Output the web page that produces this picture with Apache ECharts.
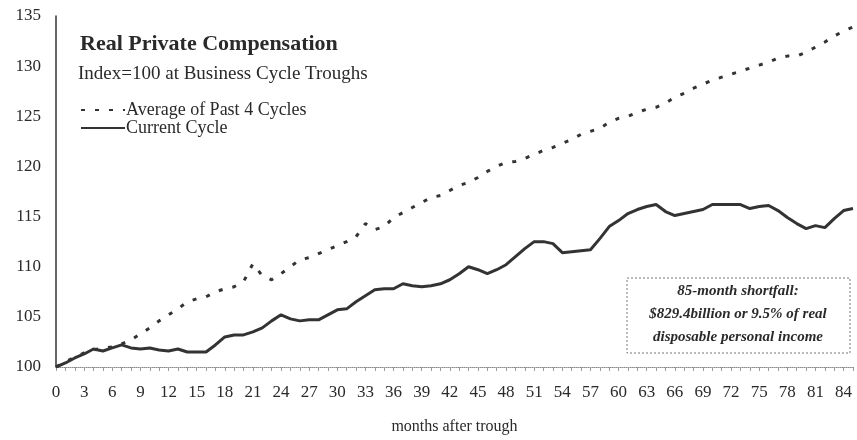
<!DOCTYPE html>
<html>
<head>
<meta charset="utf-8">
<title>Real Private Compensation</title>
<script src="https://cdn.jsdelivr.net/npm/echarts@6/dist/echarts.min.js"></script>
<style>
  html, body { margin: 0; padding: 0; background: #fff; }
  #chart { width: 857px; height: 440px; }
</style>
</head>
<body>
<div id="chart"></div>
<script>
// months after trough, 0..85
var months = []
for (var i = 0; i <= 85; i++) {
  months.push(String(i))
}

// Average of Past 4 Cycles (index = 100 at trough)
var pastAverage = [
  100.0, 100.5, 101.0, 101.4, 101.7, 101.9, 102.0, 102.3, 102.7, 103.3,
  103.9, 104.6, 105.2, 105.8, 106.5, 106.8, 107.0, 107.5, 107.8, 108.0,
  108.5, 110.3, 109.1, 108.7, 109.3, 110.0, 110.7, 110.9, 111.3, 111.7,
  112.1, 112.5, 113.0, 114.3, 113.7, 114.0, 114.9, 115.4, 115.9, 116.4,
  116.9, 117.1, 117.6, 118.1, 118.4, 118.9, 119.5, 120.0, 120.4, 120.5,
  120.8, 121.2, 121.6, 121.9, 122.3, 122.7, 123.2, 123.5, 123.8, 124.4,
  124.8, 125.0, 125.4, 125.7, 125.9, 126.3, 126.9, 127.3, 127.8, 128.2,
  128.6, 128.9, 129.2, 129.5, 129.8, 130.1, 130.4, 130.8, 131.0, 131.0,
  131.4, 131.9, 132.4, 133.0, 133.5, 133.9
]

// Current Cycle
var currentCycle = [
  100.0, 100.4, 100.9, 101.3, 101.8, 101.6, 101.9, 102.2, 101.9, 101.8,
  101.9, 101.7, 101.6, 101.8, 101.5, 101.5, 101.5, 102.2, 103.0, 103.2,
  103.2, 103.5, 103.9, 104.6, 105.2, 104.8, 104.6, 104.7, 104.7, 105.2,
  105.7, 105.8, 106.5, 107.1, 107.7, 107.8, 107.8, 108.3, 108.1, 108.0,
  108.1, 108.3, 108.7, 109.3, 110.0, 109.7, 109.3, 109.7, 110.2, 111.0,
  111.8, 112.5, 112.5, 112.3, 111.4, 111.5, 111.6, 111.7, 112.8, 114.0,
  114.6, 115.3, 115.7, 116.0, 116.2, 115.5, 115.1, 115.3, 115.5, 115.7,
  116.2, 116.2, 116.2, 116.2, 115.8, 116.0, 116.1, 115.6, 114.9, 114.3,
  113.8, 114.1, 113.9, 114.8, 115.6, 115.8
]

var yTicks = [100, 105, 110, 115, 120, 125, 130, 135]

var noteLines = [
  '85-month shortfall:',
  '$829.4billion or 9.5% of real',
  'disposable personal income'
]

var serif = '"Liberation Serif", "DejaVu Serif", serif'
var ink = '#2a2a2a'

var chart = echarts.init(document.getElementById('chart'))

chart.setOption({
  animation: false,
  backgroundColor: '#fff',
  textStyle: { fontFamily: serif, color: ink },
  title: [
    {
      text: 'Real Private Compensation',
      left: 75,
      top: 28,
      textStyle: { fontFamily: serif, fontSize: 22, fontWeight: 'bold', color: ink }
    },
    {
      text: 'Index=100 at Business Cycle Troughs',
      left: 73,
      top: 60,
      textStyle: { fontFamily: serif, fontSize: 19, fontWeight: 'normal', color: ink }
    }
  ],
  legend: {
    orient: 'vertical',
    left: 80,
    top: 101,
    itemWidth: 44,
    itemHeight: 10,
    itemGap: 0,
    padding: 0,
    itemStyle: { opacity: 0 },
    data: ['Average of Past 4 Cycles', 'Current Cycle'],
    textStyle: { fontFamily: serif, fontSize: 18, color: ink, padding: [0, 0, 0, -4] }
  },
  grid: {
    left: 56,
    right: 4,
    top: 16,
    bottom: 73
  },
  xAxis: {
    type: 'category',
    data: months,
    boundaryGap: false,
    name: 'months after trough',
    nameLocation: 'middle',
    nameGap: 52,
    nameTextStyle: { fontFamily: serif, fontSize: 16, color: ink },
    axisLine: { lineStyle: { color: '#8a8a8a', type: 'dotted', width: 1 } },
    axisTick: { show: true, interval: 0, length: 4, lineStyle: { color: '#9a9a9a' } },
    axisLabel: {
      interval: 2,
      margin: 17,
      fontFamily: serif,
      fontSize: 17,
      color: ink
    },
    splitLine: { show: false }
  },
  yAxis: {
    type: 'value',
    min: yTicks[0],
    max: yTicks[yTicks.length - 1],
    interval: 5,
    axisLine: { show: true, lineStyle: { color: '#333', width: 1.5 } },
    axisTick: { show: false },
    axisLabel: {
      margin: 15,
      fontFamily: serif,
      fontSize: 17,
      color: ink
    },
    splitLine: { show: false }
  },
  series: [
    {
      name: 'Average of Past 4 Cycles',
      type: 'line',
      data: pastAverage,
      symbol: 'none',
      smooth: false,
      lineStyle: { color: '#333', width: 3, type: [4, 10] },
      itemStyle: { color: '#333' },
      z: 2
    },
    {
      name: 'Current Cycle',
      type: 'line',
      data: currentCycle,
      symbol: 'none',
      smooth: false,
      lineStyle: { color: '#333', width: 3 },
      itemStyle: { color: '#333' },
      z: 3
    }
  ],
  graphic: [
    {
      type: 'rect',
      x: 627,
      y: 278,
      shape: { width: 223, height: 75 },
      style: { fill: '#fff', stroke: '#777', lineWidth: 1, lineDash: [2, 2] },
      z: 10
    },
    {
      type: 'text',
      x: 738,
      y: 280,
      style: {
        text: noteLines.join('\n'),
        align: 'center',
        verticalAlign: 'top',
        lineHeight: 23,
        font: 'italic bold 15px ' + serif,
        fill: ink
      },
      z: 11
    }
  ]
})
</script>
</body>
</html>
